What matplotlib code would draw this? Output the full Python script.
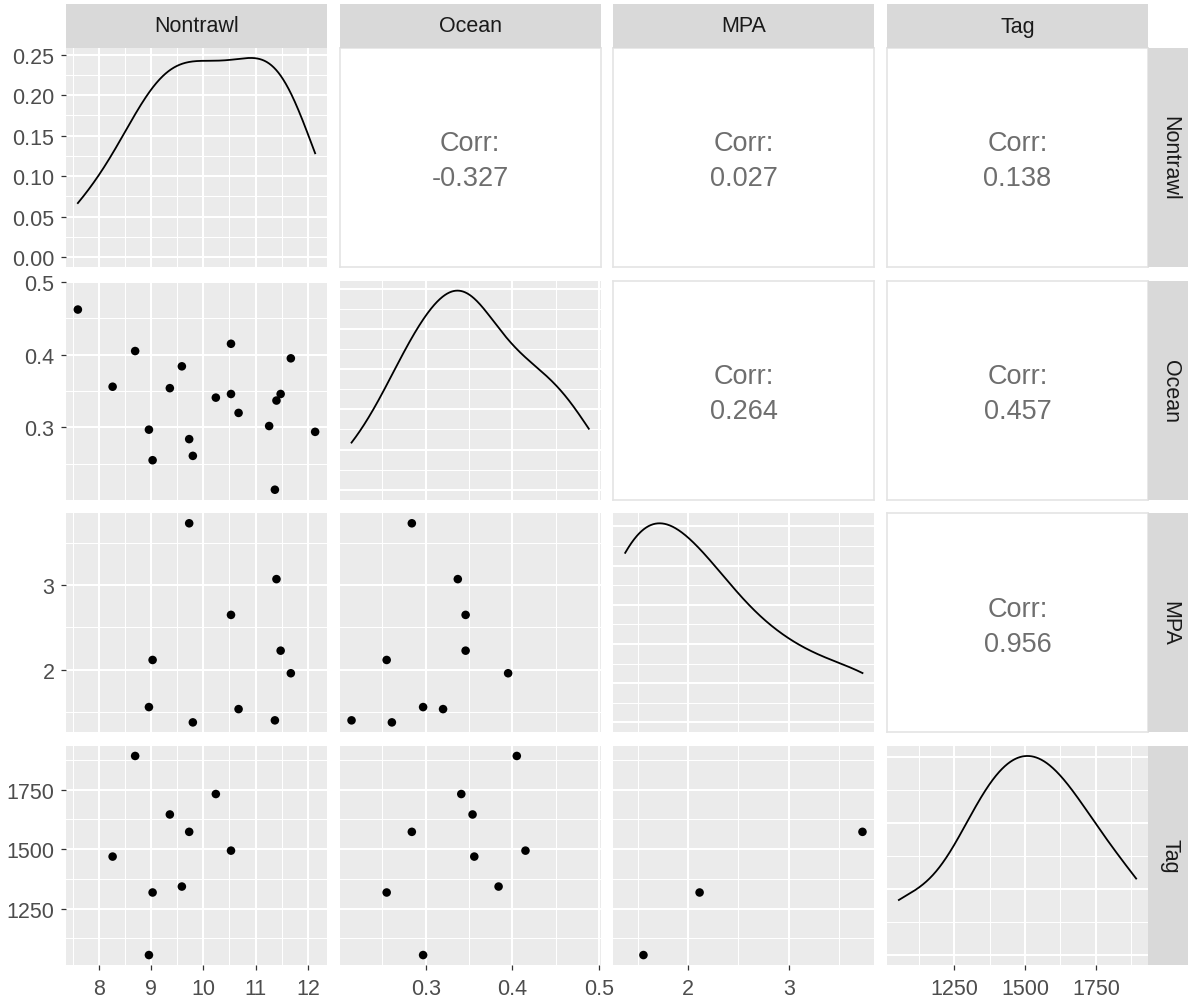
import numpy as np
import matplotlib
matplotlib.use('Agg')
import matplotlib.pyplot as plt
from matplotlib.ticker import FixedLocator

plt.rcParams['font.family'] = ['Liberation Sans', 'DejaVu Sans']

# ---------------- data ----------------
variables = ['Nontrawl', 'Ocean', 'MPA', 'Tag']

nontrawl = [7.60, 8.265, 8.696, 8.96, 9.03, 9.36, 9.59, 9.73, 9.80, 10.24,
            10.53, 10.53, 10.675, 11.26, 11.37, 11.40, 11.48, 11.675, 12.14,
            np.nan, np.nan, np.nan]
ocean = [0.462, 0.356, 0.405, 0.297, 0.255, 0.354, 0.384, 0.284, 0.261, 0.341,
         0.415, 0.346, 0.320, 0.302, 0.2145, 0.337, 0.346, 0.395, 0.294,
         0.437, 0.453, 0.488]
mpa = [np.nan, np.nan, np.nan, 1.557, 2.114, np.nan, np.nan, 3.73, 1.376, np.nan,
       np.nan, 2.647, 1.533, np.nan, 1.40, 3.07, 2.224, 1.957, np.nan,
       np.nan, np.nan, np.nan]
tag = [np.nan, 1469, 1892, 1055, 1318, 1646, 1343, 1573, np.nan, 1732,
       1494, np.nan, np.nan, np.nan, np.nan, np.nan, np.nan, np.nan, np.nan,
       np.nan, np.nan, np.nan]

# correlations shown in the upper panels (row, col)
corr_pairs = [(0, 1), (0, 2), (0, 3), (1, 2), (1, 3), (2, 3)]
corr_values = [-0.327, 0.027, 0.138, 0.264, 0.457, 0.956]

# axis breaks / labels
breaks = [[8, 9, 10, 11, 12], [0.3, 0.4, 0.5], [2, 3], [1250, 1500, 1750]]
break_labels = [['8', '9', '10', '11', '12'], ['0.3', '0.4', '0.5'], ['2', '3'],
                ['1250', '1500', '1750']]
minor_breaks = [[7.5, 8.5, 9.5, 10.5, 11.5], [0.25, 0.35, 0.45],
                [1.5, 2.5, 3.5], [1125, 1375, 1625, 1875]]
density_labels_top = ['0.00', '0.05', '0.10', '0.15', '0.20', '0.25']

data = [np.array(nontrawl, float), np.array(ocean, float),
        np.array(mpa, float), np.array(tag, float)]

# ---------------- helpers ----------------
W, H = 1188, 1004
fig = plt.figure(figsize=(W / 100, H / 100), dpi=100)
fig.patch.set_facecolor('white')

PANEL_BG = '#EBEBEB'
STRIP_BG = '#D9D9D9'
TICK_COL = '#4D4D4D'
FS_TICK = 15.5
FS_STRIP = 15.5
FS_CORR = 19.5

col_left = [66 + i * 273.67 for i in range(4)]
row_top = [49 + i * 232.67 for i in range(4)]
PW, PH = 261, 219


def px_axes(left, top, w, h):
    return fig.add_axes([left / W, 1 - (top + h) / H, w / W, h / H])


def lims(v):
    v = v[~np.isnan(v)]
    lo, hi = v.min(), v.max()
    r = hi - lo
    return lo - 0.05 * r, hi + 0.05 * r


def kde(v):
    # gaussian kernel density with R's default (nrd0) bandwidth
    v = v[~np.isnan(v)]
    n = len(v)
    sd = v.std(ddof=1)
    q75, q25 = np.percentile(v, [75, 25])
    bw = 0.9 * min(sd, (q75 - q25) / 1.34) * n ** (-0.2)
    g = np.linspace(v.min(), v.max(), 512)
    d = np.exp(-0.5 * ((g[:, None] - v[None, :]) / bw) ** 2).sum(1) / (n * bw * np.sqrt(2 * np.pi))
    return g, d


def nice_breaks(hi):
    best = None
    for k in range(-6, 4):
        for m in [1, 2, 2.5, 5]:
            step = m * 10.0 ** k
            cnt = int(np.floor(hi / step + 1e-9)) + 1
            if cnt <= 6 and (best is None or step < best):
                best = step
    step = best
    majors = np.arange(0, hi + 1e-12, step)
    minors = majors + step / 2
    minors = minors[minors <= hi]
    return majors, minors


def style_panel(ax):
    ax.set_facecolor(PANEL_BG)
    for s in ax.spines.values():
        s.set_visible(False)
    ax.set_axisbelow(True)
    ax.grid(which='major', color='white', linewidth=1.45)
    ax.grid(which='minor', color='white', linewidth=0.75)
    ax.tick_params(which='minor', length=0)
    ax.tick_params(which='major', length=3.8, width=0.9, color='#333333',
                   labelsize=FS_TICK, labelcolor=TICK_COL)
    ax.tick_params(axis='y', pad=4.5)
    ax.tick_params(axis='x', pad=5.5)


xlims = [lims(v) for v in data]

for i in range(4):
    for j in range(4):
        ax = px_axes(col_left[j], row_top[i], PW, PH)
        if i < j:
            # correlation panel
            ax.set_facecolor('white')
            for s in ax.spines.values():
                s.set_color('#E4E4E4')
                s.set_linewidth(1.2)
            ax.set_xticks([])
            ax.set_yticks([])
            val = corr_values[corr_pairs.index((i, j))]
            ax.text(0.5, 0.485, 'Corr:\n%.3f' % val, ha='center', va='center',
                    fontsize=FS_CORR, color='#6E6E6E', linespacing=1.45,
                    transform=ax.transAxes)
            continue

        style_panel(ax)
        ax.set_xlim(*xlims[j])
        ax.xaxis.set_major_locator(FixedLocator(breaks[j]))
        ax.xaxis.set_minor_locator(FixedLocator(minor_breaks[j]))
        if i == 3:
            ax.set_xticklabels(break_labels[j])
        else:
            ax.tick_params(axis='x', which='both', bottom=False, labelbottom=False)

        if i == j:
            g, d = kde(data[j])
            ax.plot(g, d, color='black', linewidth=1.3)
            top = d.max()
            ax.set_ylim(-0.05 * top, top * 1.05)
            majors, minors = nice_breaks(top * 1.05)
            ax.yaxis.set_major_locator(FixedLocator(majors))
            ax.yaxis.set_minor_locator(FixedLocator(minors))
            if j == 0:
                ax.set_yticklabels(density_labels_top[:len(majors)])
            else:
                ax.tick_params(axis='y', which='both', left=False, labelleft=False)
        else:
            ax.scatter(data[j], data[i], s=38, color='black', edgecolors='none', zorder=3)
            ax.set_ylim(*xlims[i])
            ax.yaxis.set_major_locator(FixedLocator(breaks[i]))
            ax.yaxis.set_minor_locator(FixedLocator(minor_breaks[i]))
            if j == 0:
                ax.set_yticklabels(break_labels[i])
            else:
                ax.tick_params(axis='y', which='both', left=False, labelleft=False)

# strips on top
for j, name in enumerate(variables):
    sax = px_axes(col_left[j], 5, PW, 44)
    sax.set_facecolor(STRIP_BG)
    for s in sax.spines.values():
        s.set_visible(False)
    sax.set_xticks([])
    sax.set_yticks([])
    sax.text(0.5, 0.5, name, ha='center', va='center', fontsize=FS_STRIP,
             color='#1A1A1A', transform=sax.transAxes)

# strips on the right
for i, name in enumerate(variables):
    sax = px_axes(1148, row_top[i], 44, PH)
    sax.set_facecolor(STRIP_BG)
    for s in sax.spines.values():
        s.set_visible(False)
    sax.set_xticks([])
    sax.set_yticks([])
    sax.text(0.5, 0.5, name, ha='center', va='center', fontsize=FS_STRIP,
             color='#1A1A1A', rotation=-90, transform=sax.transAxes)

fig.savefig('out.png', dpi=100)
